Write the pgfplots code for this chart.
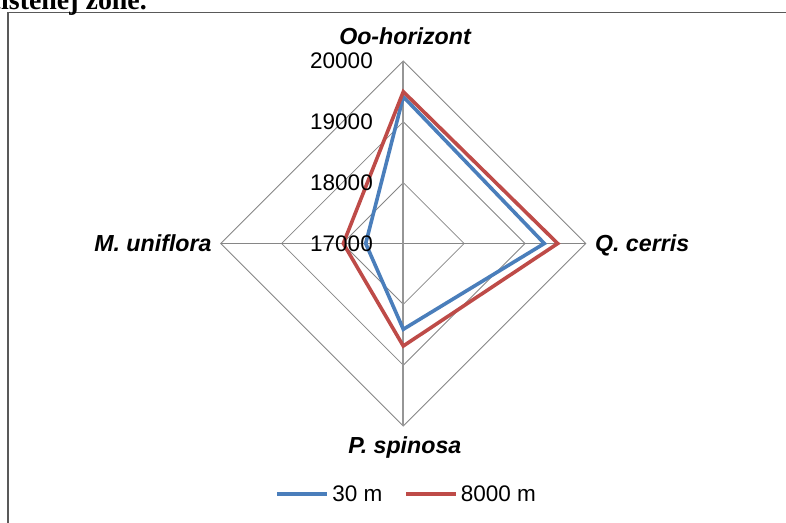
\documentclass[border=0pt]{standalone}
\usepackage{pgfplots}
\pgfplotsset{compat=1.18}
\usepackage{pgfplotstable}
\usepackage{fontspec}
\setmainfont{Liberation Sans}
\newfontfamily\titleserif{Liberation Serif}
\definecolor{xlblue}{RGB}{74,126,187}
\definecolor{xlred}{RGB}{190,75,72}
\definecolor{gridgray}{RGB}{134,134,134}
\definecolor{axgray}{RGB}{150,150,150}
\definecolor{framegray}{RGB}{89,89,89}

% direction of each category and its value
\pgfplotstableread{
dx dy v
0 1 19413
1 0 19318
0 -1 18410
-1 0 17618
}\thirtym
\pgfplotstableread{
dx dy v
0 1 19495
1 0 19538
0 -1 18685
-1 0 17986
}\eightkm
\pgfplotstableread{
dx dy
0 1
1 0
0 -1
-1 0
}\diamondgrid

\newcommand{\tickfont}{\fontsize{22.6}{26}\selectfont}
\newcommand{\catfont}{\bfseries\itshape\fontsize{23.3}{27}\selectfont}

\begin{document}
\begin{tikzpicture}
\useasboundingbox (0,0) rectangle (786bp,523bp);
\clip (0,0) rectangle (786bp,523bp);
\draw[line width=1.6bp, framegray] (8bp,-10bp) -- (8bp,510.3bp) -- (800bp,510.3bp);
\node[anchor=base east, inner sep=0pt, font=\titleserif\bfseries\fontsize{28}{32}\selectfont] at (147bp,513bp) {znečistenej zóne.};
\begin{axis}[
  at={(403.3bp,279.5bp)}, anchor=center,
  scale only axis, width=365bp, height=365bp,
  xmin=-3, xmax=3, ymin=-3, ymax=3,
  hide axis, clip=false,
  legend columns=2,
  legend image code/.code={\draw[#1] (0bp,0bp) -- (50bp,0bp);},
  legend style={at={(0.507,-0.186)}, anchor=center, draw=none, fill=none,
    inner sep=0pt, font=\tickfont, nodes={inner sep=0pt},
    /tikz/every odd column/.append style={column sep=3bp},
    /tikz/every even column/.append style={column sep=22bp}},
]
% grid diamonds (18000, 19000, 20000)
\addplot[gridgray, line width=0.8bp, forget plot] table[x expr=\thisrow{dx}*1, y expr=\thisrow{dy}*1] {\diamondgrid} -- cycle;
\addplot[gridgray, line width=0.8bp, forget plot] table[x expr=\thisrow{dx}*2, y expr=\thisrow{dy}*2] {\diamondgrid} -- cycle;
\addplot[gridgray, line width=0.8bp, forget plot] table[x expr=\thisrow{dx}*3, y expr=\thisrow{dy}*3] {\diamondgrid} -- cycle;
\addplot[gridgray, line width=0.8bp, forget plot] coordinates {(-3,0) (3,0)};
\addplot[axgray, line width=1.8bp, forget plot] coordinates {(0,-3) (0,3)};
% series
\addplot[xlblue, line width=3.6bp, line join=miter] table[x expr={\thisrow{dx}*(\thisrow{v}-17000)/1000}, y expr={\thisrow{dy}*(\thisrow{v}-17000)/1000}] {\thirtym} -- cycle;
\addlegendentry{30 m}
\addplot[xlred, line width=3.6bp, line join=miter] table[x expr={\thisrow{dx}*(\thisrow{v}-17000)/1000}, y expr={\thisrow{dy}*(\thisrow{v}-17000)/1000}] {\eightkm} -- cycle;
\addlegendentry{8000 m}
% radial value labels
\node[anchor=east, inner sep=0pt, font=\tickfont, xshift=-30.3bp] at (axis cs:0,3) {20000};
\node[anchor=east, inner sep=0pt, font=\tickfont, xshift=-30.3bp] at (axis cs:0,2) {19000};
\node[anchor=east, inner sep=0pt, font=\tickfont, xshift=-30.3bp] at (axis cs:0,1) {18000};
\node[anchor=east, inner sep=0pt, font=\tickfont, xshift=-30.3bp] at (axis cs:0,0) {17000};
% category labels
\node[anchor=base, inner sep=0pt, font=\catfont, xshift=1.7bp, yshift=16.7bp] at (axis cs:0,3) {Oo-horizont};
\node[anchor=base west, inner sep=0pt, font=\catfont, xshift=9bp, yshift=-8.2bp] at (axis cs:3,0) {Q. cerris};
\node[anchor=base east, inner sep=0pt, font=\catfont, xshift=-9bp, yshift=-8.2bp] at (axis cs:-3,0) {M. uniflora};
\node[anchor=base, inner sep=0pt, font=\catfont, xshift=1.5bp, yshift=-28bp] at (axis cs:0,-3) {P. spinosa};
\end{axis}
\end{tikzpicture}
\end{document}
